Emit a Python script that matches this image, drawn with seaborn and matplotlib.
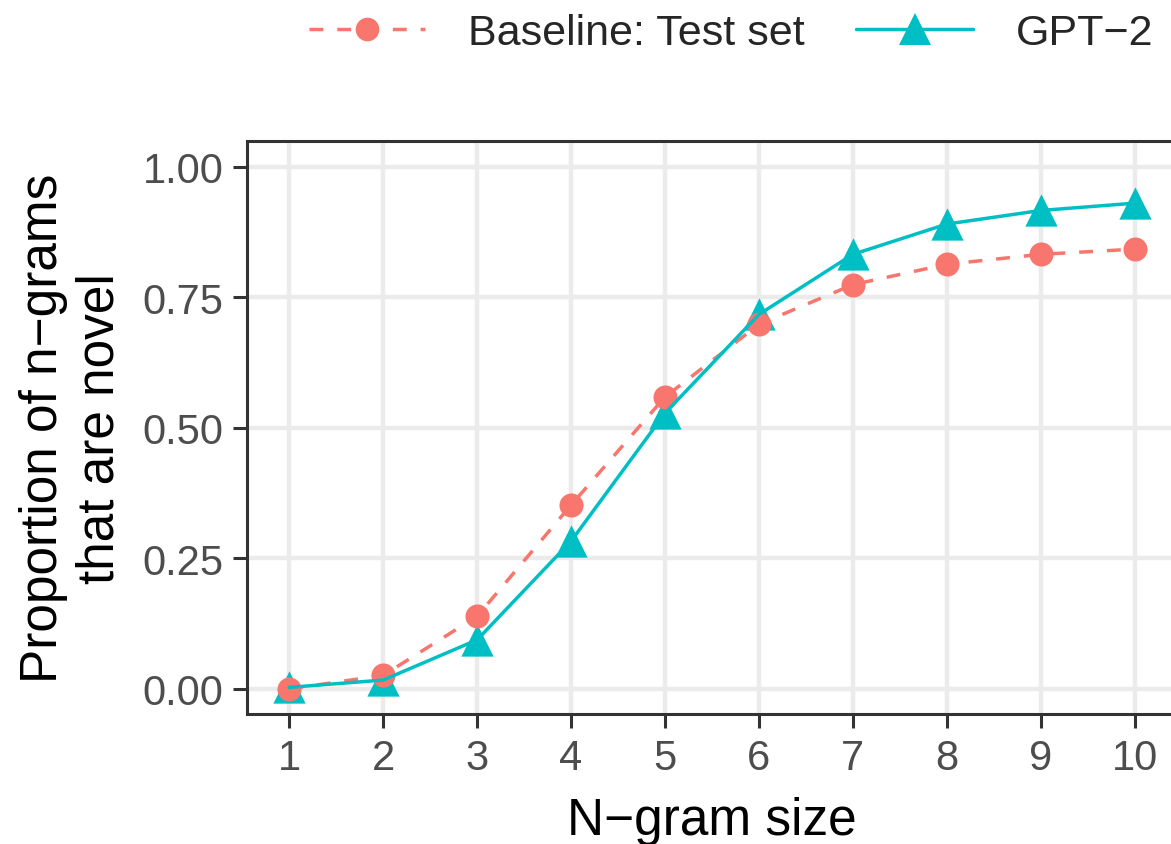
import numpy as np
import pandas as pd
import seaborn as sns
import matplotlib
matplotlib.use('Agg')
import matplotlib.pyplot as plt
from matplotlib.lines import Line2D

# values
ngram_size = [1, 2, 3, 4, 5, 6, 7, 8, 9, 10]
baseline = [0.000, 0.026, 0.139, 0.352, 0.559, 0.698, 0.774, 0.813, 0.832, 0.842]
gpt2 = [0.003, 0.017, 0.094, 0.283, 0.528, 0.717, 0.832, 0.890, 0.916, 0.930]
series_names = ['Baseline: Test set', 'GPT\u22122']
y_ticks = [0.0, 0.25, 0.5, 0.75, 1.0]
y_ticklabels = ['0.00', '0.25', '0.50', '0.75', '1.00']

red = '#F8766D'
teal = '#00BFC4'

df = pd.DataFrame({
    'n': ngram_size * 2,
    'prop': baseline + gpt2,
    'model': [series_names[0]] * len(baseline) + [series_names[1]] * len(gpt2),
})
df_base = df[df['model'] == series_names[0]]
df_gpt = df[df['model'] == series_names[1]]

sns.set_theme(style='white')
plt.rcParams['font.family'] = ['Liberation Sans', 'DejaVu Sans']
plt.rcParams['axes.unicode_minus'] = True

fig = plt.figure(figsize=(11.71, 8.45), dpi=100)
ax = fig.add_axes([247/1171, 1-715/845, (1177-247)/1171, (715-142)/845])

lw = 2.5
# points first, lines on top (like ggplot layering)
sns.scatterplot(data=df_gpt, x='n', y='prop', marker='^', s=540, color=teal,
                linewidth=0, ax=ax, zorder=3, legend=False)
sns.scatterplot(data=df_base, x='n', y='prop', marker='o', s=300, color=red,
                linewidth=0, ax=ax, zorder=4, legend=False)
sns.lineplot(data=df_base, x='n', y='prop', color=red, linewidth=lw,
             linestyle=(0, (4, 4)), ax=ax, zorder=5, legend=False)
sns.lineplot(data=df_gpt, x='n', y='prop', color=teal, linewidth=lw,
             ax=ax, zorder=6, legend=False)

ax.set_xlim(0.55, 10.45)
ax.set_ylim(-0.048, 1.049)
ax.set_xticks(ngram_size)
ax.set_xticklabels([str(v) for v in ngram_size])
ax.set_yticks(y_ticks)
ax.set_yticklabels(y_ticklabels)

ax.grid(True, color='#EBEBEB', linewidth=3.2)
ax.set_axisbelow(True)
for sp in ax.spines.values():
    sp.set_color('#333333')
    sp.set_linewidth(2.2)

ax.tick_params(axis='both', which='major', length=10, width=2.2, color='#333333',
               labelsize=30, labelcolor='#4D4D4D', pad=7, left=True, bottom=True)

ax.set_xlabel('N\u2212gram size', fontsize=37, color='black', labelpad=13)
ax.set_ylabel('Proportion of n\u2212grams\nthat are novel', fontsize=37,
              color='black', labelpad=13, linespacing=1.2)

handles = [
    Line2D([], [], color=red, linewidth=lw, linestyle=(0, (4, 4)), marker='o',
           markersize=17, markeredgewidth=0),
    Line2D([], [], color=teal, linewidth=lw, marker='^', markersize=23,
           markeredgewidth=0),
]
fig.legend(handles, series_names, loc='center', bbox_to_anchor=(731/1171, 1-34/845),
           ncol=2, frameon=False, fontsize=31, handlelength=2.7,
           handletextpad=1.0, columnspacing=1.2, borderaxespad=0)

fig.savefig('out.png', dpi=100)
